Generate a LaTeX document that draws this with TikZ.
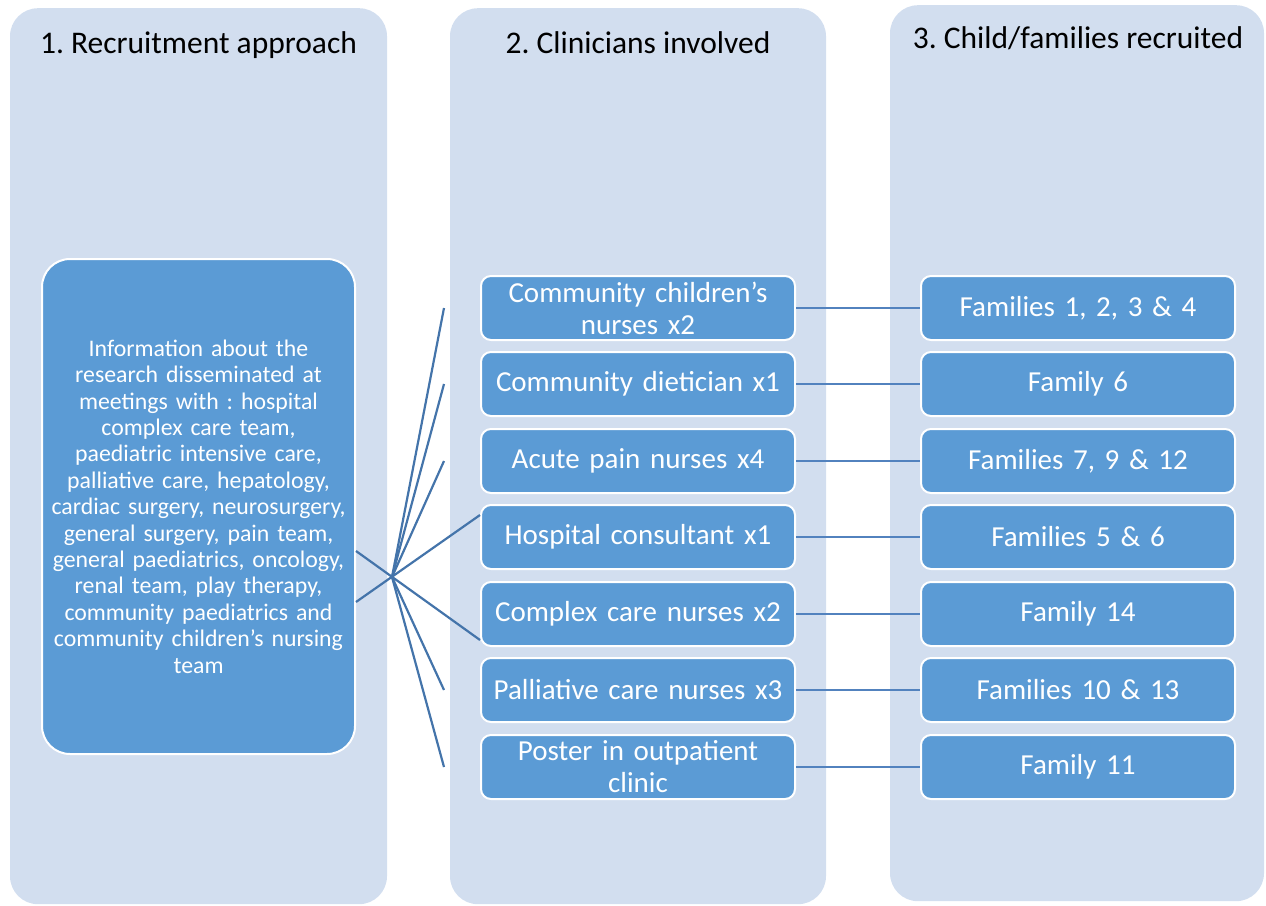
\documentclass[tikz,border=0pt]{standalone}
\usepackage{fontspec}
\setmainfont{Carlito}
\usepackage{tikz}
\usetikzlibrary{positioning,calc}
\usepackage{xcolor}
\definecolor{colfill}{HTML}{D2DEEF}
\definecolor{boxblue}{HTML}{5B9BD5}
\definecolor{linkblue}{HTML}{5282BE}
\definecolor{fanblue}{HTML}{4474AA}
\frenchspacing

\begin{document}
\begin{tikzpicture}[x=1pt,y=-1pt,
  column/.style={fill=colfill,rounded corners=28pt,minimum height=896pt,anchor=north,inner sep=0pt},
  header/.style={font=\fontsize{31.5}{38}\selectfont,anchor=base},
  stagebox/.style={fill=boxblue,draw=white,line width=2pt,rounded corners=10pt,
    minimum width=314pt,minimum height=64pt,text width=304pt,align=center,
    text=white,font=\fontsize{29}{32}\selectfont,inner sep=0pt},
  sourcebox/.style={fill=boxblue,draw=white,line width=2pt,rounded corners=28pt,
    minimum width=313pt,minimum height=495pt,text width=305pt,align=center,
    text=white,font=\fontsize{23.8}{26.4}\selectfont,inner sep=0pt},
  link/.style={linkblue,line width=2pt},
  fan/.style={fanblue,line width=2.2pt}]
  \useasboundingbox (0,0) rectangle (1266,905);
  % Columns
  \node[column,minimum width=377pt] (col1) at (198.5,8) {};
  \node[column,minimum width=376pt] (col2) at (638,8) {};
  \node[column,minimum width=374pt] (col3) at (1077,5) {};
  \node[header] (head1) at (198.5,53) {1. Recruitment approach};
  \node[header] (head2) at (638,53) {2. Clinicians involved};
  \node[header] (head3) at (1078,48) {3. Child/families recruited};
  % Recruitment approach
  \node[sourcebox] (lbox) at (198.5,506.5) {Information about the\\
    research disseminated at\\ meetings with : hospital\\ complex care team,\\
    paediatric intensive care,\\ palliative care, hepatology,\\
    cardiac surgery, neurosurgery,\\ general surgery, pain team,\\
    general paediatrics, oncology,\\ renal team, play therapy,\\
    community paediatrics and\\ community children’s nursing\\ team};
  % Clinicians and families
  \foreach \i/\mtext/\ftext/\yy in {
      1/{Community children’s\\nurses x2}/{Families 1, 2, 3 \& 4}/308,
      2/{Community dietician x1}/{Family 6}/384,
      3/{Acute pain nurses x4}/{Families 7, 9 \& 12}/461,
      4/{Hospital consultant x1}/{Families 5 \& 6}/537,
      5/{Complex care nurses x2}/{Family 14}/614,
      6/{Palliative care nurses x3}/{Families 10 \& 13}/690,
      7/{Poster in outpatient\\clinic}/{Family 11}/767} {
    \node[stagebox] (mid\i) at (638,\yy) {\mtext};
    \node[stagebox] (fam\i) at (1078,\yy) {\ftext};
    \draw[link] (mid\i) -- (fam\i);
  }
  % Fan of connectors
  \coordinate (hub) at (392,577);
  \draw[fan] ([yshift=-44.5pt]lbox.east) -- ([yshift=-26pt]mid5.west);
  \draw[fan] ([yshift=-95.5pt]lbox.east) -- ([yshift=22pt]mid4.west);
  \foreach \i in {1,2,3,6,7} {
    \coordinate (tip\i) at ([xshift=-36pt]mid\i.west);
    \draw[fan] (hub) -- (tip\i);
  }
\end{tikzpicture}
\end{document}
